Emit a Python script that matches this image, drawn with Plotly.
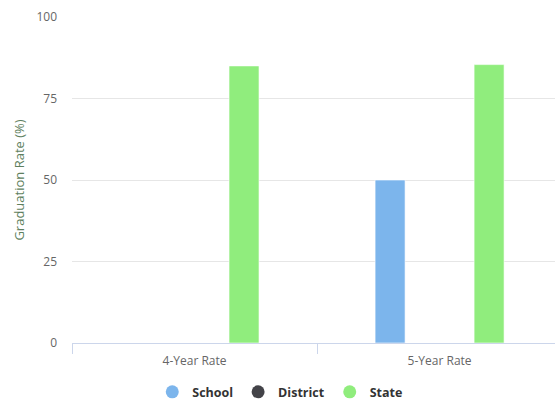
import plotly.graph_objects as go

# Graduation rates by cohort length
categories = ["4-Year Rate", "5-Year Rate"]
school = [None, 50.0]
district = [None, None]
state = [85.0, 85.4]

series = [
    ("School", school, "#7cb5ec"),
    ("District", district, "#434348"),
    ("State", state, "#90ed7d"),
]

y_ticks = [0, 25, 50, 75, 100]

fig = go.Figure()

for name, values, color in series:
    fig.add_trace(go.Bar(
        x=categories,
        y=values,
        name=name,
        marker=dict(color=color, line=dict(color="rgba(255,255,255,0.6)", width=1)),
        showlegend=False,
        hoverinfo="x+y+name",
    ))

# Circle legend markers
for name, values, color in series:
    fig.add_trace(go.Scatter(
        x=[None], y=[None], mode="markers", name=name,
        marker=dict(symbol="circle", size=13, color=color),
        showlegend=True,
    ))

fig.update_layout(
    width=555,
    height=401,
    margin=dict(l=72, r=0, t=17, b=58),
    paper_bgcolor="white",
    plot_bgcolor="white",
    font=dict(family="Open Sans, Arial, sans-serif", size=12, color="#666666"),
    barmode="group",
    bargap=0.394,
    bargroupgap=0.394,
    legend=dict(
        orientation="h",
        xref="container", yref="container",
        x=0.505, xanchor="center",
        y=0.022, yanchor="middle",
        font=dict(size=12.5, color="#333333", family="Open Sans, Arial, sans-serif", weight="bold"),
        itemclick=False,
        traceorder="normal",
    ),
    xaxis=dict(
        type="category",
        range=[-0.5, 1.471],
        showgrid=False,
        showline=True,
        linecolor="#ccd6eb",
        linewidth=1,
        ticks="outside",
        tickson="boundaries",
        ticklen=10,
        tickcolor="#ccd6eb",
        ticklabelstandoff=7,
        tickfont=dict(size=12, color="#666666"),
        zeroline=False,
    ),
    yaxis=dict(
        range=[0, 100],
        tickvals=y_ticks,
        showgrid=True,
        gridcolor="#e6e6e6",
        gridwidth=1,
        zeroline=False,
        showline=False,
        ticks="",
        ticklabelstandoff=14,
        tickfont=dict(size=12, color="#666666"),
        title=dict(text="Graduation Rate (%)", font=dict(size=13, color="#5e7f5e"), standoff=8),
    ),
)

fig.write_html("out.html")
